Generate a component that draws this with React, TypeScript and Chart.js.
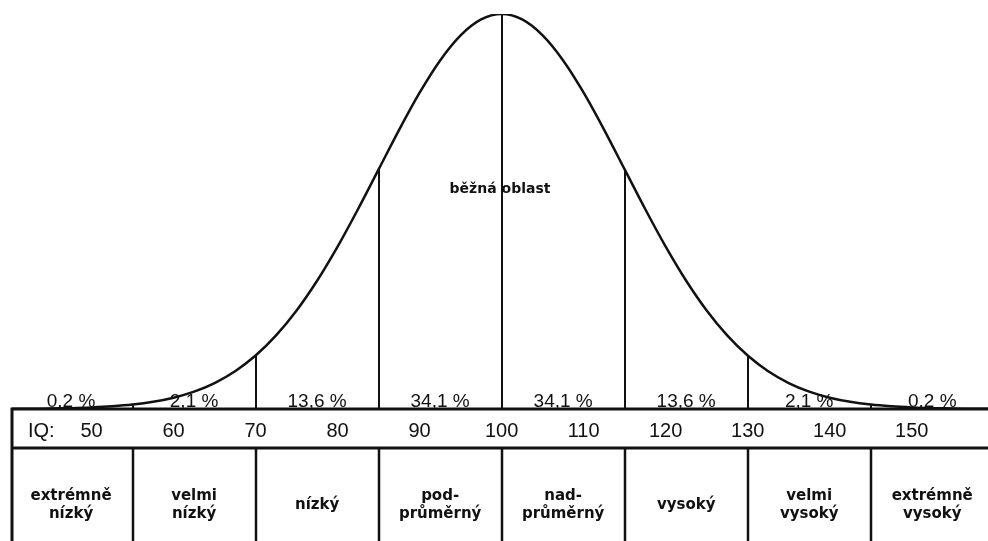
import React, { useEffect, useRef } from 'react';
import { Chart, registerables } from 'chart.js';

Chart.register(...registerables);

// IQ positions of the curve points and relative height of the curve (peak = 100)
const iqValues = [
  40, 42.5, 45, 47.5, 50, 52.5, 55, 57.5, 60, 62.5, 65, 67.5, 70, 72.5, 75, 77.5, 80, 82.5, 85, 87.5, 90, 92.5, 95, 97.5,
  100, 102.5, 105, 107.5, 110, 112.5, 115, 117.5, 120, 122.5, 125, 127.5, 130, 132.5, 135, 137.5, 140, 142.5, 145,
  147.5, 150, 152.5, 155, 157.5, 160,
];
const curveValues = [
  0.03, 0.06, 0.12, 0.22, 0.39, 0.67, 1.11, 1.81, 2.86, 4.39, 6.57, 9.56, 13.53, 18.63, 24.94, 32.47, 41.11, 50.63,
  60.65, 70.66, 80.07, 88.25, 94.59, 98.62, 100, 98.62, 94.59, 88.25, 80.07, 70.66, 60.65, 50.63, 41.11, 32.47, 24.94,
  18.63, 13.53, 9.56, 6.57, 4.39, 2.86, 1.81, 1.11, 0.67, 0.39, 0.22, 0.12, 0.06, 0.03,
];

const tickValues = [50, 60, 70, 80, 90, 100, 110, 120, 130, 140, 150];
const boundaryValues = [55, 70, 85, 100, 115, 130, 145];
const sectionCenters = [47.5, 62.5, 77.5, 92.5, 107.5, 122.5, 137.5, 152.5];
const percentLabels = ['0,2 %', '2,1 %', '13,6 %', '34,1 %', '34,1 %', '13,6 %', '2,1 %', '0,2 %'];
const categoryLabels = [
  ['extrémně', 'nízký'],
  ['velmi', 'nízký'],
  ['nízký'],
  ['pod-', 'průměrný'],
  ['nad-', 'průměrný'],
  ['vysoký'],
  ['velmi', 'vysoký'],
  ['extrémně', 'vysoký'],
];
const centerLabel = 'běžná oblast';
const axisLabel = 'IQ:';

const INK = '#111111';

const tablePlugin = {
  id: 'iqTable',
  afterDatasetsDraw(chart: any) {
    const { ctx, chartArea, scales } = chart;
    const x = scales.x;
    const y = scales.y;
    const W = chart.width;
    const H = chart.height;
    const rowTop = chartArea.bottom;
    const rowMid = rowTop + 39;
    const left = chartArea.left;

    ctx.save();
    ctx.strokeStyle = INK;
    ctx.fillStyle = INK;

    // vertical lines under the curve
    ctx.lineWidth = 2;
    boundaryValues.forEach((b) => {
      const i = iqValues.indexOf(b);
      const px = Math.round(x.getPixelForValue(b));
      ctx.beginPath();
      ctx.moveTo(px, y.getPixelForValue(0));
      ctx.lineTo(px, y.getPixelForValue(curveValues[i]));
      ctx.stroke();
    });

    // table lines
    ctx.lineWidth = 3;
    ctx.beginPath();
    ctx.moveTo(left, rowTop);
    ctx.lineTo(W, rowTop);
    ctx.moveTo(left, rowMid);
    ctx.lineTo(W, rowMid);
    ctx.moveTo(left, rowTop - 1.5);
    ctx.lineTo(left, H);
    ctx.stroke();
    ctx.lineWidth = 2.5;
    boundaryValues.forEach((b) => {
      const px = Math.round(x.getPixelForValue(b));
      ctx.beginPath();
      ctx.moveTo(px, rowMid);
      ctx.lineTo(px, H);
      ctx.stroke();
    });

    // percentages
    ctx.font = '19px "Liberation Sans"';
    ctx.textAlign = 'center';
    ctx.textBaseline = 'alphabetic';
    percentLabels.forEach((t, i) => {
      ctx.fillText(t, x.getPixelForValue(sectionCenters[i]), rowTop - 2);
    });

    // IQ: label
    ctx.font = '20px "Liberation Sans"';
    ctx.textAlign = 'left';
    ctx.textBaseline = 'middle';
    ctx.fillText(axisLabel, left + 16, rowTop + 22);

    // center label
    ctx.font = 'bold 14px "DejaVu Sans"';
    ctx.textAlign = 'center';
    ctx.textBaseline = 'alphabetic';
    ctx.fillText(centerLabel, x.getPixelForValue(99.8), y.getPixelForValue(54.7));

    // category labels
    ctx.font = 'bold 15px "DejaVu Sans"';
    categoryLabels.forEach((lines, i) => {
      const px = x.getPixelForValue(sectionCenters[i]);
      if (lines.length === 1) {
        ctx.fillText(lines[0], px, rowMid + 61);
      } else {
        ctx.fillText(lines[0], px, rowMid + 52);
        ctx.fillText(lines[1], px, rowMid + 70);
      }
    });

    ctx.restore();
  },
};

export default function App() {
  const ref = useRef<HTMLCanvasElement | null>(null);

  useEffect(() => {
    if (!ref.current) return;
    const chart = new Chart(ref.current, {
      type: 'scatter',
      data: {
        datasets: [
          {
            data: iqValues.map((v, i) => ({ x: v, y: curveValues[i] })),
            showLine: true,
            borderColor: INK,
            borderWidth: 2.5,
            pointRadius: 0,
            tension: 0.3,
            fill: false,
          },
        ],
      },
      options: {
        animation: false,
        responsive: false,
        events: [],
        layout: { padding: { left: 12, right: 0, top: 14, bottom: 88 } },
        plugins: { legend: { display: false }, tooltip: { enabled: false } },
        scales: {
          x: {
            type: 'linear',
            min: 40.3,
            max: 159.3,
            grid: { display: false, drawTicks: false },
            border: { display: false },
            afterBuildTicks: (axis: any) => {
              axis.ticks = tickValues.map((v) => ({ value: v }));
            },
            ticks: {
              color: INK,
              padding: 10,
              maxRotation: 0,
              autoSkip: false,
              font: { family: '"Liberation Sans"', size: 20 },
              callback: (v: any) => String(v),
            },
          },
          y: {
            display: false,
            min: 0,
            max: 100,
          },
        },
      },
      plugins: [tablePlugin],
    });
    return () => chart.destroy();
  }, []);

  return (
    <div style={{ position: 'absolute', left: 0, top: 0, width: 988, height: 541, background: '#fff' }}>
      <canvas ref={ref} width={988} height={541} />
    </div>
  );
}
